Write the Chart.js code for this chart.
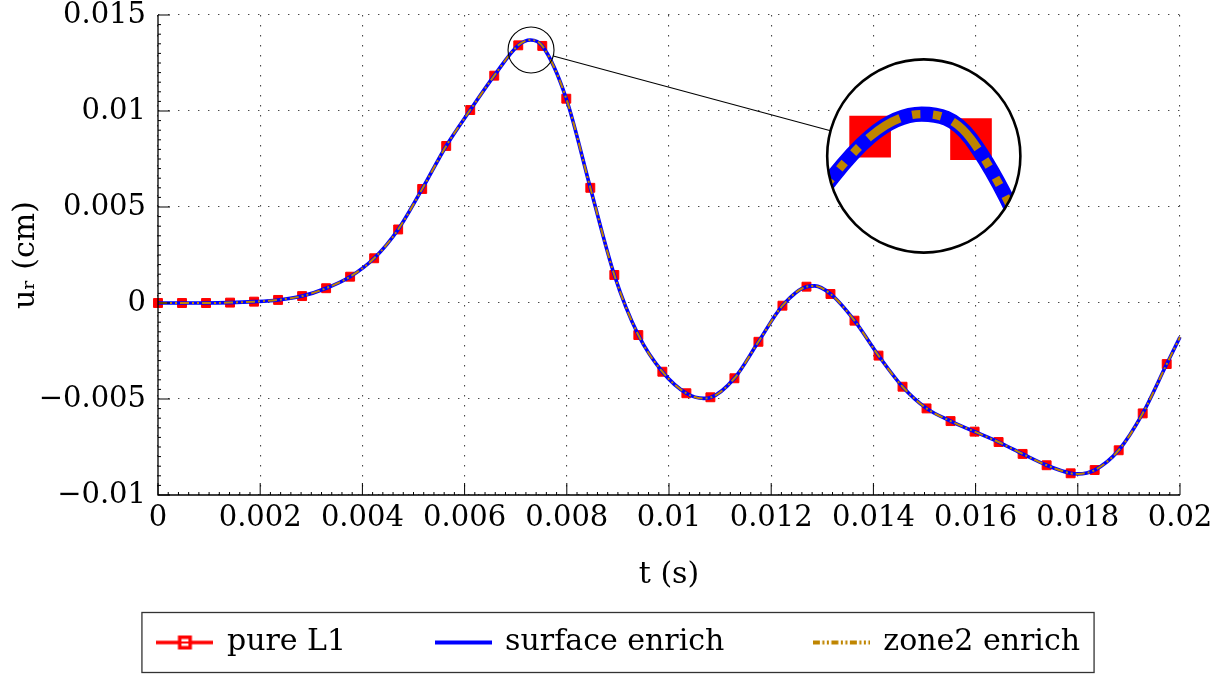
<!DOCTYPE html>
<html>
<head>
<meta charset="utf-8">
<script src="https://cdn.jsdelivr.net/npm/chart.js@4"></script>
<style>
  html, body { margin: 0; padding: 0; background: #fff; }
  #wrap { width: 1231px; height: 675px; }
</style>
</head>
<body>
<div id="wrap"><canvas id="c" width="1231" height="675"></canvas></div>
<script>
// ---------- data ----------
const markerT = [0, 0.00047, 0.00094, 0.00141, 0.00188, 0.00235, 0.00282, 0.00329, 0.00376, 0.00423,
  0.0047, 0.00517, 0.00564, 0.00611, 0.00658, 0.00705, 0.00752, 0.00799, 0.00846, 0.00893,
  0.0094, 0.00987, 0.01034, 0.01081, 0.01128, 0.01175, 0.01222, 0.01269, 0.01316, 0.01363,
  0.0141, 0.01457, 0.01504, 0.01551, 0.01598, 0.01645, 0.01692, 0.01739, 0.01786, 0.01833,
  0.0188, 0.01927, 0.01974];
const pureL1 = [0, 0, 0, 0.00002, 0.00007, 0.00016, 0.00036, 0.00077, 0.00137, 0.00233,
  0.00383, 0.00594, 0.00818, 0.01005, 0.01184, 0.01342, 0.01339, 0.01064, 0.0060, 0.00146,
  -0.00167, -0.00358, -0.0047, -0.00491, -0.00392, -0.00202, -0.00014, 0.00085, 0.00047, -0.00092,
  -0.00274, -0.00436, -0.00549, -0.00615, -0.0067, -0.00724, -0.00786, -0.00845, -0.00887, -0.0087,
  -0.00767, -0.00575, -0.00318];

const lineT = [0, 0.00047, 0.00094, 0.00141, 0.00188, 0.00235, 0.00282, 0.00329, 0.00376, 0.00423,
  0.0047, 0.00517, 0.00564, 0.00611, 0.00658, 0.00705, 0.00729, 0.00752, 0.00799, 0.00846, 0.00893,
  0.0094, 0.00987, 0.01034, 0.01068, 0.01081, 0.01128, 0.01175, 0.01222, 0.01269, 0.01285, 0.01316, 0.01363,
  0.0141, 0.01457, 0.01504, 0.01551, 0.01598, 0.01645, 0.01692, 0.01739, 0.01786, 0.01800, 0.01833,
  0.0188, 0.01927, 0.01974, 0.02];
const surfaceEnrich = [0, 0, 0, 0.00002, 0.00007, 0.00016, 0.00036, 0.00077, 0.00137, 0.00233,
  0.00383, 0.00594, 0.00818, 0.01005, 0.01184, 0.01342, 0.0137, 0.01339, 0.01064, 0.0060, 0.00146,
  -0.00167, -0.00358, -0.0047, -0.00497, -0.00493, -0.00392, -0.00202, -0.00014, 0.00085, 0.00089, 0.00047, -0.00092,
  -0.00274, -0.00436, -0.00549, -0.00615, -0.0067, -0.00724, -0.00786, -0.00845, -0.00887, -0.0089, -0.0087,
  -0.00767, -0.00575, -0.00318, -0.00177];
const zone2Enrich = [0, 0, 0, 0.00002, 0.00007, 0.00016, 0.00036, 0.00077, 0.00137, 0.00233,
  0.00383, 0.00594, 0.00818, 0.01005, 0.01184, 0.01342, 0.0137, 0.01339, 0.01064, 0.0060, 0.00146,
  -0.00167, -0.00358, -0.0047, -0.00497, -0.00493, -0.00392, -0.00202, -0.00014, 0.00085, 0.00089, 0.00047, -0.00092,
  -0.00274, -0.00436, -0.00549, -0.00615, -0.0067, -0.00724, -0.00786, -0.00845, -0.00887, -0.0089, -0.0087,
  -0.00767, -0.00575, -0.00318, -0.00177];

const seriesNames = ['pure L1', 'surface enrich', 'zone2 enrich'];
const xTitle = 't (s)';
const yTitle = 'uᵣ (cm)';

// inset (spy) description in data coordinates
const spySmall = { t: 0.0073, u: 0.01318 };
const spyBig = { t: 0.014986, u: 0.007656 };

// ---------- styles ----------
const RED = '#ff0000', BLUE = '#0000ff', BROWN = '#bf8500';
const BROWN_DASH = [9, 3, 2, 3, 2, 3];
const FONT = 'DejaVu Serif';

function legendImg(kind) {
  const c = document.createElement('canvas');
  c.width = 57; c.height = 18;
  const g = c.getContext('2d');
  const cy = 9;
  if (kind === 0) {
    g.strokeStyle = RED; g.lineWidth = 3.5;
    g.beginPath(); g.moveTo(0, cy); g.lineTo(57, cy); g.stroke();
    g.fillStyle = RED; g.fillRect(28.5 - 7, cy - 7, 14, 14);
    g.fillStyle = '#ffffff'; g.fillRect(28.5 - 3.5, cy - 3.5, 7, 7);
    g.fillStyle = RED; g.fillRect(28.5 - 3.5, cy - 1, 7, 2);
  } else if (kind === 1) {
    g.strokeStyle = BLUE; g.lineWidth = 4;
    g.beginPath(); g.moveTo(0, cy); g.lineTo(57, cy); g.stroke();
  } else {
    g.strokeStyle = BROWN; g.lineWidth = 4;
    g.setLineDash([7, 2.5, 2, 2.5, 2, 2.5]);
    g.beginPath(); g.moveTo(0, cy); g.lineTo(57, cy); g.stroke();
  }
  return c;
}
const legendImages = [legendImg(0), legendImg(1), legendImg(2)];

const pureData = markerT.map((t, i) => ({ x: t, y: pureL1[i] }));
const surfData = lineT.map((t, i) => ({ x: t, y: surfaceEnrich[i] }));
const zoneData = lineT.map((t, i) => ({ x: t, y: zone2Enrich[i] }));

function fmt(v) {
  const s = parseFloat(Number(v).toFixed(4)).toString();
  return s.replace('-', '\u2212');
}

const framePlugin = {
  id: 'framePlugin',
  afterLayout(chart) {
    const lg = chart.legend;
    if (lg) {
      const pad = chart.options.plugins.legend.labels.padding;
      lg.top = 627.5 - pad;
      lg.left = 22; lg.right = 1216; lg.width = lg.right - lg.left;
    }
  },
  afterDatasetsDraw(chart) {
    const { ctx, chartArea: a, scales } = chart;
    const xs = scales.x, ys = scales.y;
    ctx.save();
    // solid left and bottom axis lines with inward ticks
    ctx.strokeStyle = '#000'; ctx.lineWidth = 1.3;
    ctx.beginPath();
    ctx.moveTo(a.left, a.top); ctx.lineTo(a.left, a.bottom); ctx.lineTo(a.right, a.bottom);
    ctx.stroke();
    ctx.lineWidth = 1;
    ctx.beginPath();
    xs.ticks.forEach((tk, i) => {
      const px = xs.getPixelForValue(tk.value);
      ctx.moveTo(px, a.bottom); ctx.lineTo(px, a.bottom - 12);
      if (i < xs.ticks.length - 1) {
        const nx = xs.getPixelForValue(xs.ticks[i + 1].value);
        for (let k = 1; k < 10; k++) {
          const mx = px + (nx - px) * k / 10;
          ctx.moveTo(mx, a.bottom); ctx.lineTo(mx, a.bottom - 3);
        }
      }
    });
    ys.ticks.forEach((tk, i) => {
      const py = ys.getPixelForValue(tk.value);
      ctx.moveTo(a.left, py); ctx.lineTo(a.left + 12, py);
      if (i < ys.ticks.length - 1) {
        const ny = ys.getPixelForValue(ys.ticks[i + 1].value);
        for (let k = 1; k < 10; k++) {
          const my = py + (ny - py) * k / 10;
          ctx.moveTo(a.left, my); ctx.lineTo(a.left + 3, my);
        }
      }
    });
    ctx.stroke();

    // spy / magnifier inset
    const sx = xs.getPixelForValue(spySmall.t), sy = ys.getPixelForValue(spySmall.u);
    const bx = xs.getPixelForValue(spyBig.t), by = ys.getPixelForValue(spyBig.u);
    const rs = 23, s = 4.2, rb = rs * s;
    const dx = bx - sx, dy = by - sy, d = Math.hypot(dx, dy), ux = dx / d, uy = dy / d;
    ctx.lineWidth = 1.1;
    ctx.beginPath(); ctx.arc(sx, sy, rs, 0, Math.PI * 2); ctx.stroke();
    ctx.beginPath(); ctx.moveTo(sx + ux * rs, sy + uy * rs); ctx.lineTo(bx - ux * rb, by - uy * rb); ctx.stroke();

    ctx.save();
    ctx.beginPath(); ctx.arc(bx, by, rb, 0, Math.PI * 2); ctx.clip();
    ctx.fillStyle = '#fff'; ctx.fillRect(bx - rb, by - rb, 2 * rb, 2 * rb);
    ctx.translate(bx, by); ctx.scale(s, s); ctx.translate(-sx, -sy);
    [0, 1, 2].forEach(i => {
      const meta = chart.getDatasetMeta(i);
      if (meta && meta.controller) meta.controller.draw();
    });
    ctx.restore();
    ctx.strokeStyle = '#000'; ctx.lineWidth = 2.6;
    ctx.beginPath(); ctx.arc(bx, by, rb, 0, Math.PI * 2); ctx.stroke();
    ctx.restore();
  },
  afterDraw(chart) {
    const lg = chart.legend;
    if (!lg || !lg.legendHitBoxes || !lg.legendHitBoxes.length) return;
    const hb = lg.legendHitBoxes;
    const first = hb[0], last = hb[hb.length - 1];
    const ctx = chart.ctx;
    const cy = first.top + first.height / 2;
    const left = first.left - 16, right = last.left + last.width + 14;
    ctx.save();
    ctx.strokeStyle = '#333'; ctx.lineWidth = 1.3;
    ctx.strokeRect(left, cy - 30, right - left, 60);
    ctx.restore();
  }
};

new Chart(document.getElementById('c'), {
  type: 'line',
  data: {
    datasets: [
      {
        label: seriesNames[0], data: pureData, order: 3,
        borderColor: RED, backgroundColor: RED, borderWidth: 2, showLine: false,
        pointStyle: 'rect', pointBackgroundColor: RED, pointBorderColor: RED, pointBorderWidth: 1,
        pointRadius: 6.3, clip: false
      },
      {
        label: seriesNames[1], data: surfData, order: 2,
        borderColor: BLUE, backgroundColor: BLUE, borderWidth: 3.6, pointRadius: 0,
        cubicInterpolationMode: 'monotone', clip: false
      },
      {
        label: seriesNames[2], data: zoneData, order: 1,
        borderColor: BROWN, backgroundColor: BROWN, borderWidth: 2, pointRadius: 0,
        borderDash: BROWN_DASH, cubicInterpolationMode: 'monotone', clip: false
      }
    ]
  },
  options: {
    responsive: false, animation: false, devicePixelRatio: 1,
    events: [],
    layout: { padding: { left: 8, right: 51, top: 0, bottom: 0 } },
    scales: {
      x: {
        type: 'linear', min: 0, max: 0.02,
        afterFit: s => { s.height = 100; },
        ticks: { stepSize: 0.002, callback: v => fmt(v), color: '#000', padding: 9,
          font: { family: FONT, size: 29, lineHeight: 1 }, maxRotation: 0, autoSkip: false },
        grid: { color: 'rgba(40,40,40,0.85)', lineWidth: 1.1, drawTicks: false },
        border: { display: false, dash: [1.4, 8.6] },
        title: { display: true, text: xTitle, color: '#000', font: { family: FONT, size: 30, lineHeight: 1.2 },
          padding: { top: 0, bottom: 2 } }
      },
      y: {
        type: 'linear', min: -0.01, max: 0.015,
        afterFit: s => { s.width = 150; s.paddingTop = 15; s.paddingBottom = 0; },
        ticks: { stepSize: 0.005, callback: v => fmt(v), color: '#000', padding: 12,
          font: { family: FONT, size: 29, lineHeight: 1 } },
        grid: { color: 'rgba(40,40,40,0.85)', lineWidth: 1.1, drawTicks: false },
        border: { display: false, dash: [1.4, 8.6] },
        title: { display: true, text: yTitle, color: '#000', font: { family: FONT, size: 30, lineHeight: 1.2 },
          padding: { top: 0, bottom: 0 } }
      }
    },
    plugins: {
      tooltip: { enabled: false },
      legend: {
        display: true, position: 'bottom', maxHeight: 80,
        labels: {
          usePointStyle: true, pointStyleWidth: 54, padding: 90, color: '#000',
          font: { family: FONT, size: 30 },
          generateLabels: chart => chart.data.datasets.map((ds, i) => ({
            text: ds.label, datasetIndex: i, pointStyle: legendImages[i],
            fillStyle: ds.borderColor, strokeStyle: ds.borderColor, lineWidth: 0, hidden: false
          }))
        }
      }
    }
  },
  plugins: [framePlugin]
});
</script>
</body>
</html>
